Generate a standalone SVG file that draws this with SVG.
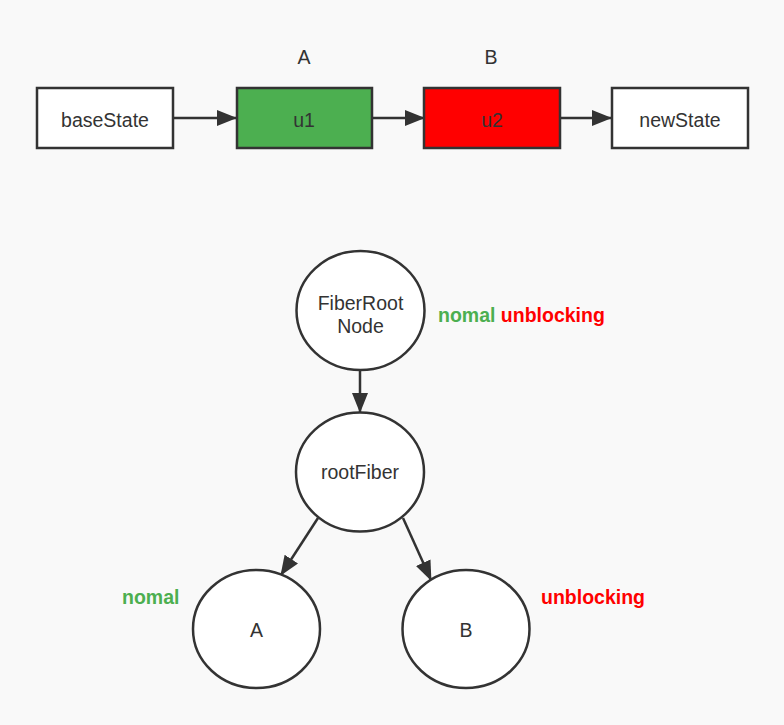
<svg xmlns="http://www.w3.org/2000/svg" width="784" height="725" viewBox="0 0 784 725">
<defs>
<style>
.node{stroke:#333;stroke-width:2.5;}
.t{font-family:"Liberation Sans",Arial,sans-serif;font-size:19.5px;fill:#333;text-anchor:middle;}
.lb{font-family:"Liberation Sans",Arial,sans-serif;font-size:19.5px;font-weight:bold;}
.edge{stroke:#333;stroke-width:2.5;fill:none;marker-end:url(#arr);}
</style>
<marker id="arr" viewBox="0 0 20 16" refX="19" refY="8" markerWidth="8" markerHeight="6.4" markerUnits="strokeWidth" orient="auto">
<path d="M0,0 L20,8 L0,16 z" fill="#333"/>
</marker>
</defs>
<rect width="784" height="725" fill="#f9f9f9"/>
<g id="connectors">
<line class="edge" x1="174" y1="118" x2="236" y2="118"/>
<line class="edge" x1="373" y1="118" x2="424" y2="118"/>
<line class="edge" x1="561" y1="118" x2="611" y2="118"/>
<line class="edge" x1="360" y1="371" x2="360" y2="412"/>
<line class="edge" x1="318" y1="518" x2="281" y2="575"/>
<line class="edge" x1="403" y1="518" x2="431" y2="580"/>
</g>
<g id="baseState"><rect class="node" x="37" y="88" width="136" height="60" fill="#fff"/><text class="t" x="105" y="127">baseState</text></g>
<g id="u1"><rect class="node" x="237" y="88" width="135" height="60" fill="#4caf50"/><text class="t" x="304" y="127">u1</text><text class="t" x="304" y="64">A</text></g>
<g id="u2"><rect class="node" x="424" y="88" width="136" height="60" fill="#ff0000"/><text class="t" x="492" y="127">u2</text><text class="t" x="491" y="64">B</text></g>
<g id="newState"><rect class="node" x="612" y="88" width="136" height="60" fill="#fff"/><text class="t" x="680" y="127">newState</text></g>
<g id="FiberRootNode"><ellipse class="node" cx="360.5" cy="310.5" rx="64" ry="59.5" fill="#fff"/><text class="t" x="360.5" y="310">FiberRoot</text><text class="t" x="360.5" y="333">Node</text>
<text class="lb" x="438" y="322"><tspan fill="#4caf50">nomal</tspan> <tspan fill="#ff0000">unblocking</tspan></text></g>
<g id="rootFiber"><ellipse class="node" cx="360" cy="472" rx="64" ry="59.5" fill="#fff"/><text class="t" x="360" y="479">rootFiber</text></g>
<g id="A"><ellipse class="node" cx="256.5" cy="629" rx="63.5" ry="59" fill="#fff"/><text class="t" x="256.5" y="637">A</text><text class="lb" x="122" y="604" fill="#4caf50">nomal</text></g>
<g id="B"><ellipse class="node" cx="466" cy="629" rx="63.5" ry="59" fill="#fff"/><text class="t" x="466" y="637">B</text><text class="lb" x="541" y="604" fill="#ff0000">unblocking</text></g>
</svg>
